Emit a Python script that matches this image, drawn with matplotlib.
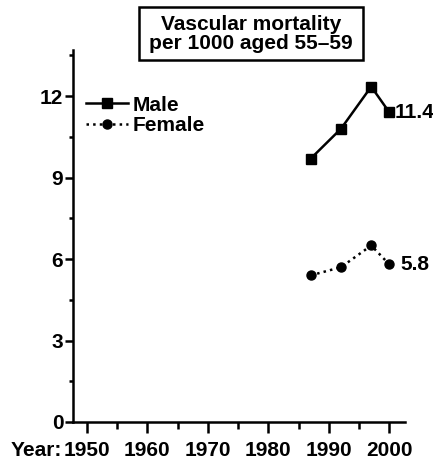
import matplotlib.pyplot as plt
from matplotlib.patches import Rectangle
from matplotlib.ticker import MultipleLocator

plt.rcParams['font.family'] = ['Liberation Sans', 'DejaVu Sans']
plt.rcParams['font.weight'] = 'bold'

# Veriler
years = [1987, 1992, 1997, 2000]
male = [9.7, 10.8, 12.35, 11.4]
female = [5.4, 5.7, 6.5, 5.8]
x_ticks = [1950, 1960, 1970, 1980, 1990, 2000]
y_ticks = [0, 3, 6, 9, 12]

FS = 15

fig = plt.figure(figsize=(4.33, 4.61), dpi=100)
ax = fig.add_axes([0.1686, 0.0846, 0.767, 0.807])

ax.plot(years, male, color='black', linestyle='-', linewidth=1.8,
        marker='s', markersize=6.8, label='Male')
ax.plot(years, female, color='black', linestyle=':', linewidth=1.8,
        marker='o', markersize=6.5, label='Female')

# Son değer etiketleri
ax.text(years[-1] + 0.8, male[-1], f"{male[-1]}", fontsize=FS, fontweight='bold',
        va='center', ha='left')
ax.text(years[-1] + 1.8, female[-1], f"{female[-1]}", fontsize=FS, fontweight='bold',
        va='center', ha='left')

ax.set_xlim(1947.7, 2002.6)
ax.set_ylim(0, 13.7)
ax.set_xticks(x_ticks)
ax.set_yticks(y_ticks)
ax.xaxis.set_minor_locator(MultipleLocator(5))
ax.yaxis.set_minor_locator(MultipleLocator(1.5))
ax.tick_params(which='both', width=1.8, labelsize=FS)
ax.tick_params(axis='x', which='major', length=8, pad=6)
ax.tick_params(axis='x', which='minor', length=5)
ax.tick_params(axis='y', which='major', length=6, pad=1)
ax.tick_params(axis='y', which='minor', length=3)
for lab in ax.get_xticklabels() + ax.get_yticklabels():
    lab.set_fontweight('bold')

for side in ['top', 'right']:
    ax.spines[side].set_visible(False)
for side in ['left', 'bottom']:
    ax.spines[side].set_linewidth(1.8)

# "Year:" etiketi, x ekseni yazılarıyla aynı hizada
ref = ax.get_xticklabels()[0]
ax.text(1945.9, 0, "Year:", transform=ref.get_transform(), fontsize=FS,
        fontweight='bold', ha='right', va=ref.get_va(), clip_on=False)

leg = ax.legend(loc='upper left', bbox_to_anchor=(0.015, 0.90), frameon=False,
                handlelength=2.0, handletextpad=0.2, labelspacing=0.08,
                prop={'size': FS, 'weight': 'bold'}, borderaxespad=0)

# Başlık kutusu
fig.patches.append(Rectangle((0.321, 0.870), 0.517, 0.115, transform=fig.transFigure,
                             facecolor='white', edgecolor='black', linewidth=1.8))
fig.text(0.58, 0.927, "Vascular mortality\nper 1000 aged 55\u201359", fontsize=FS,
         fontweight='bold', ha='center', va='center', linespacing=1.0)

fig.savefig('out.png', dpi=100)
